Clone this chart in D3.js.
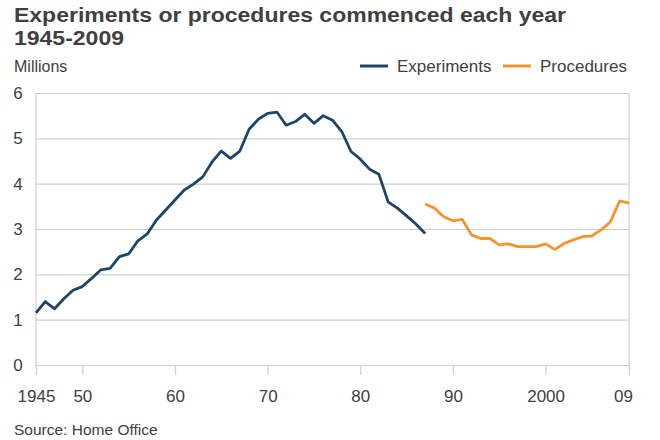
<!DOCTYPE html>
<html>
<head>
<meta charset="utf-8">
<script src="https://cdn.jsdelivr.net/npm/d3@7"></script>
<style>
  html, body { margin: 0; padding: 0; background: #fff; }
  svg { display: block; font-family: "Liberation Sans", Arial, Helvetica, sans-serif; }
</style>
</head>
<body>
<svg id="chart" width="660" height="440"></svg>
<script>
// ---- Data ----
const experimentYears = d3.range(1945, 1988);
const experimentValues = [
  1.15, 1.40, 1.24, 1.46, 1.65, 1.73, 1.91, 2.10, 2.13, 2.39,
  2.45, 2.74, 2.89, 3.20, 3.42, 3.64, 3.86, 3.99, 4.15, 4.48,
  4.72, 4.56, 4.72, 5.20, 5.42, 5.55, 5.58, 5.29, 5.37, 5.53,
  5.33, 5.50, 5.40, 5.15, 4.71, 4.54, 4.32, 4.21, 3.60, 3.46,
  3.29, 3.11, 2.90
];
const procedureYears = d3.range(1987, 2010);
const procedureValues = [
  3.55, 3.46, 3.27, 3.18, 3.21, 2.87, 2.79, 2.79, 2.65, 2.67,
  2.61, 2.61, 2.61, 2.67, 2.55, 2.68, 2.76, 2.83, 2.85, 2.98,
  3.16, 3.62, 3.57
];
const xTickValues = [1945, 1950, 1960, 1970, 1980, 1990, 2000, 2009];
const xTickLabels = ["1945", "50", "60", "70", "80", "90", "2000", "09"];
const yTickValues = [0, 1, 2, 3, 4, 5, 6];
const seriesNames = ["Experiments", "Procedures"];
const seriesColors = ["#1e4566", "#f5942f"];

// ---- Layout ----
const svg = d3.select("#chart");
const plotLeft = 36, plotRight = 629, plotTop = 93, plotBottom = 365;
const textColor = "#404040";
const gridColor = "#cfcfcf";

const x = d3.scaleLinear().domain([1945, 2009]).range([plotLeft, plotRight]);
const y = d3.scaleLinear().domain([0, 6]).range([plotBottom, plotTop]);

// Title
svg.append("text").attr("x", 14).attr("y", 22)
  .attr("font-size", 20.5).attr("font-weight", "bold").attr("fill", textColor)
  .attr("textLength", 552).attr("lengthAdjust", "spacingAndGlyphs")
  .text("Experiments or procedures commenced each year");
svg.append("text").attr("x", 14).attr("y", 45)
  .attr("font-size", 20.5).attr("font-weight", "bold").attr("fill", textColor)
  .attr("textLength", 110).attr("lengthAdjust", "spacingAndGlyphs")
  .text("1945-2009");

svg.append("text").attr("x", 14).attr("y", 72)
  .attr("font-size", 16).attr("fill", textColor).text("Millions");

// Legend
const legendItems = [
  {name: seriesNames[0], color: seriesColors[0], x0: 360},
  {name: seriesNames[1], color: seriesColors[1], x0: 503}
];
legendItems.forEach(d => {
  svg.append("line").attr("x1", d.x0).attr("x2", d.x0 + 28)
    .attr("y1", 66).attr("y2", 66)
    .attr("stroke", d.color).attr("stroke-width", 3);
  svg.append("text").attr("x", d.x0 + 37).attr("y", 72)
    .attr("font-size", 17).attr("fill", textColor).text(d.name);
});

// Horizontal gridlines + y labels
const gy = svg.append("g").attr("transform", `translate(${plotLeft},0)`)
  .call(d3.axisLeft(y).tickValues(yTickValues).tickSize(-(plotRight - plotLeft)).tickFormat(d3.format("d")));
gy.select(".domain").remove();
gy.selectAll(".tick line").attr("stroke", gridColor).attr("stroke-width", 1.2);
gy.selectAll(".tick text").attr("x", -18).attr("text-anchor", "middle")
  .attr("font-size", 17).attr("fill", textColor)
  .attr("font-family", "'Liberation Sans', Arial, sans-serif");

// X axis
const gx = svg.append("g").attr("transform", `translate(0,${plotBottom})`)
  .call(d3.axisBottom(x).tickValues(xTickValues).tickSize(10).tickPadding(15)
    .tickFormat((d, i) => xTickLabels[i]));
gx.select(".domain").attr("stroke", gridColor).attr("stroke-width", 1.2);
gx.selectAll(".tick line").attr("stroke", gridColor).attr("stroke-width", 1.2);
gx.selectAll(".tick text").attr("font-size", 17).attr("fill", textColor)
  .attr("font-family", "'Liberation Sans', Arial, sans-serif");
gx.selectAll(".tick text").filter((d, i) => i === xTickValues.length - 1).attr("dx", -6);

// Vertical frame lines
svg.append("line").attr("x1", plotLeft).attr("x2", plotLeft).attr("y1", plotTop).attr("y2", plotBottom)
  .attr("stroke", gridColor).attr("stroke-width", 1.2);
svg.append("line").attr("x1", plotRight).attr("x2", plotRight).attr("y1", plotTop).attr("y2", plotBottom)
  .attr("stroke", gridColor).attr("stroke-width", 1.2);

// Lines
const line = d3.line().x(d => x(d[0])).y(d => y(d[1]));
svg.append("path")
  .datum(experimentYears.map((yr, i) => [yr, experimentValues[i]]))
  .attr("d", line).attr("fill", "none")
  .attr("stroke", seriesColors[0]).attr("stroke-width", 2.8).attr("stroke-linejoin", "round");
svg.append("path")
  .datum(procedureYears.map((yr, i) => [yr, procedureValues[i]]))
  .attr("d", line).attr("fill", "none")
  .attr("stroke", seriesColors[1]).attr("stroke-width", 2.8).attr("stroke-linejoin", "round");

// Source
svg.append("text").attr("x", 14).attr("y", 435)
  .attr("font-size", 15.5).attr("fill", textColor).text("Source: Home Office");
</script>
</body>
</html>
